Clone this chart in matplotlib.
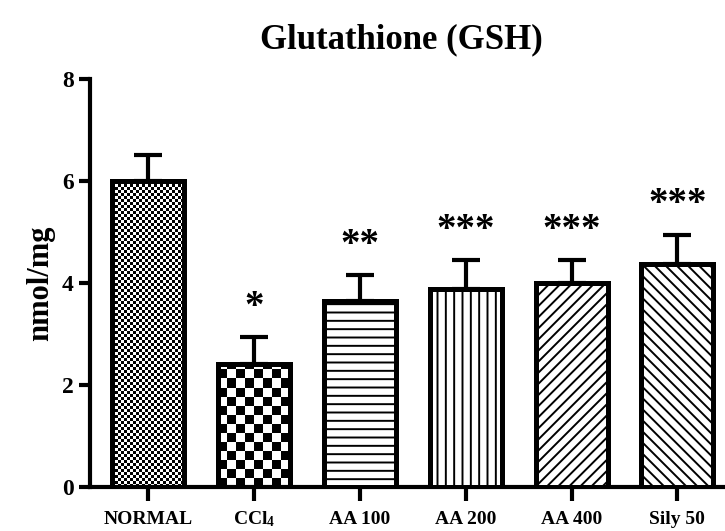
import numpy as np
import matplotlib
matplotlib.use('Agg')
import matplotlib.pyplot as plt

plt.rcParams['font.family'] = ['Liberation Serif', 'DejaVu Serif']
plt.rcParams['font.weight'] = 'bold'
plt.rcParams['mathtext.default'] = 'regular'
plt.rcParams['hatch.linewidth'] = 1.4

groups = ['NORMAL', 'CCl$_4$', 'AA 100', 'AA 200', 'AA 400', 'Sily 50']
means = [6.0, 2.42, 3.65, 3.88, 4.0, 4.38]
sems = [0.52, 0.52, 0.50, 0.57, 0.45, 0.57]
stars = ['', '*', '**', '***', '***', '***']
hatches = [None, None, '--', '||', '///', '\\\\\\']
checker = [3, 9, None, None, None, None]   # checker square size, px

fig = plt.figure(figsize=(7.25, 5.31), dpi=100)
ax = fig.add_axes([0.124, 0.083, 0.876, 0.768])

x = np.arange(len(groups))
faces = ['none' if c else 'white' for c in checker]
bars = ax.bar(x, means, width=0.68, color=faces, edgecolor='black',
              linewidth=3.6, zorder=3)
ax.errorbar(x, means, yerr=[np.zeros(len(sems)), sems], fmt='none',
            ecolor='black', elinewidth=3, capsize=10, capthick=3, zorder=2)

ax.set_xlim(-0.55, 5.45)
ax.set_ylim(0, 8)

for b, h in zip(bars, hatches):
    if h:
        b.set_hatch(h)

# checkerboard fills for the first two bars
fig.canvas.draw()
for b, sq in zip(bars, checker):
    if sq is None:
        continue
    bb = b.get_window_extent()
    nx = int(np.ceil(bb.width / sq)) + 1
    ny = int(np.ceil(bb.height / sq)) + 1
    board = (np.add.outer(np.arange(ny), np.arange(nx)) % 2).astype(float)
    x0 = b.get_x()
    w = b.get_width()
    hgt = b.get_height()
    im = ax.imshow(board, cmap='gray', interpolation='nearest',
                   extent=[x0, x0 + w * nx * sq / bb.width,
                           0, hgt * ny * sq / bb.height],
                   origin='lower', aspect='auto', zorder=2.5)
    im.set_clip_path(b)

ax.set_xlim(-0.55, 5.45)
ax.set_ylim(0, 8)

for xi, m, s, st in zip(x, means, sems, stars):
    if st:
        ax.text(xi, m + s + 0.22, st, ha='center', va='bottom',
                fontsize=28, fontweight='bold')

ax.set_yticks([0, 2, 4, 6, 8])
ax.set_xticks(x)
ax.set_xticklabels(groups, fontsize=14, fontweight='bold')
ax.tick_params(axis='y', labelsize=17, width=3, length=8)
ax.tick_params(axis='x', width=3, length=10, pad=17)
for lab in ax.get_xticklabels():
    lab.set_verticalalignment('baseline')
for lab in ax.get_yticklabels():
    lab.set_fontweight('bold')

for side in ['top', 'right']:
    ax.spines[side].set_visible(False)
for side in ['left', 'bottom']:
    ax.spines[side].set_linewidth(3)

ax.set_ylabel('nmol/mg', fontsize=22, fontweight='bold', labelpad=5)
ax.set_title('Glutathione (GSH)', fontsize=25, fontweight='bold', pad=22,
             x=0.49)

fig.savefig('out.png', dpi=100)
